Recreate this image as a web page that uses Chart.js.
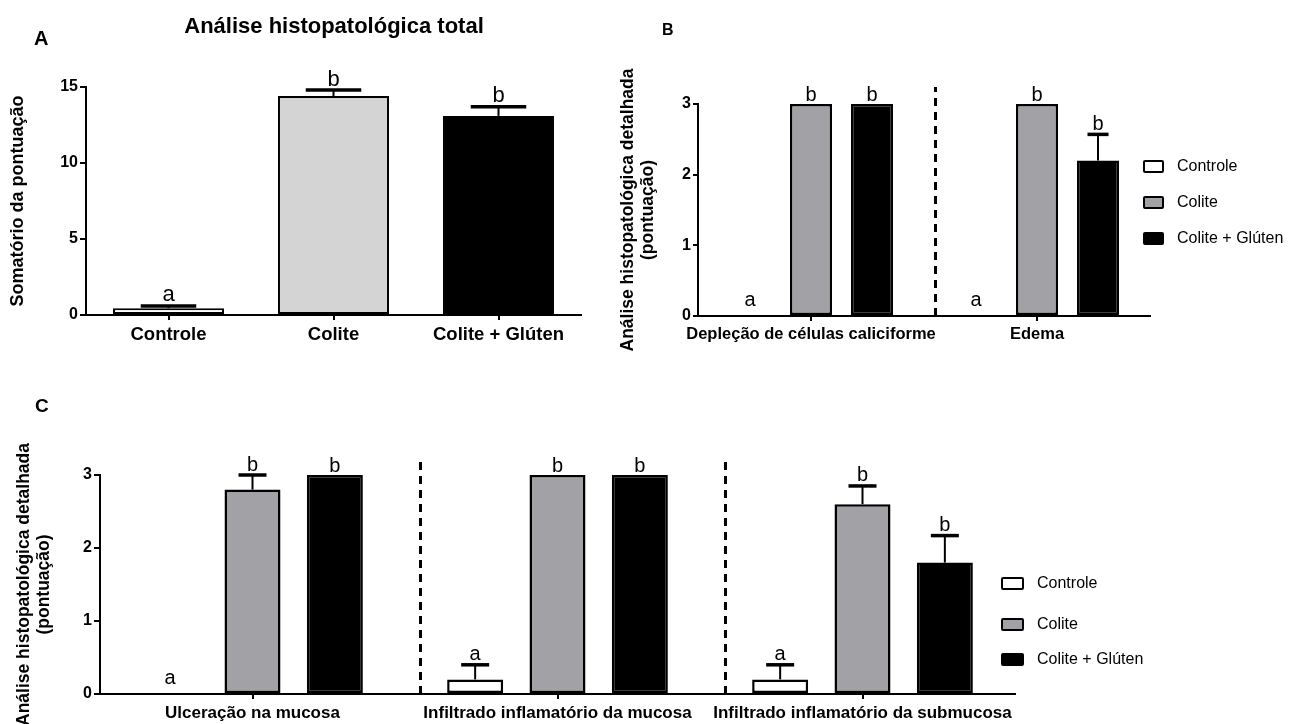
<!DOCTYPE html>
<html>
<head>
<meta charset="utf-8">
<script src="https://cdn.jsdelivr.net/npm/chart.js@4.4.1/dist/chart.umd.min.js"></script>
<style>
  html, body { margin: 0; padding: 0; background: #fff; }
  body { width: 1291px; height: 724px; position: relative; overflow: hidden;
         font-family: "Liberation Sans", Arial, sans-serif; color: #000; }
  canvas { position: absolute; }
  .txt { position: absolute; white-space: nowrap; line-height: 1; }
  .row { position: absolute; display: flex; align-items: center; height: 20px;
         white-space: nowrap; font-size: 16px; }
  .sw { box-sizing: border-box; border: 2.5px solid #000; border-radius: 2px;
        height: 13px; margin-right: 13px; }
</style>
</head>
<body>
<canvas id="chartA" width="600" height="360" style="left:0;top:0"></canvas>
<canvas id="chartB" width="691" height="360" style="left:600px;top:0"></canvas>
<canvas id="chartC" width="1291" height="354" style="left:0;top:370px"></canvas>

<div class="txt" style="left:34px;top:28px;font-size:20px;font-weight:bold">A</div>
<div class="txt" style="left:662px;top:22px;font-size:16px;font-weight:bold">B</div>
<div class="txt" style="left:35px;top:396px;font-size:19px;font-weight:bold">C</div>
<div class="txt" style="left:334px;top:15px;font-size:22px;font-weight:bold;transform:translateX(-50%)">Análise histopatológica total</div>

<div id="legendB"></div>
<div id="legendC"></div>

<script>
// ---- groups shared by every panel ----
const groups = ['Controle', 'Colite', 'Colite + Glúten'];
const groupFill = ['#ffffff', '#a2a2a6', '#000000'];

// ---- panel A: total histopathological score ----
const totalFill = ['#ffffff', '#d4d4d4', '#000000'];
const totalScore = [0.45, 14.4, 13.1];
const totalSem = [0.15, 0.4, 0.6];
const totalLetters = ['a', 'b', 'b'];
const totalTicks = [0, 5, 10, 15];

// ---- panel B: detailed score ----
const detailB = ['Depleção de células caliciforme', 'Edema'];
const bControle = [0, 0];
const bColite = [3, 3];
const bGluten = [3, 2.2];
const bControleSem = [0, 0];
const bColiteSem = [0, 0];
const bGlutenSem = [0, 0.37];
const bControleLetters = ['a', 'a'];
const bColiteLetters = ['b', 'b'];
const bGlutenLetters = ['b', 'b'];
const bSeparators = [0.55];

// ---- panel C: detailed score ----
const detailC = ['Ulceração na mucosa', 'Infiltrado inflamatório da mucosa', 'Infiltrado inflamatório da submucosa'];
const cControle = [0, 0.2, 0.2];
const cColite = [2.8, 3, 2.6];
const cGluten = [3, 3, 1.8];
const cControleSem = [0, 0.2, 0.2];
const cColiteSem = [0.2, 0, 0.25];
const cGlutenSem = [0, 0, 0.37];
const cControleLetters = ['a', 'a', 'a'];
const cColiteLetters = ['b', 'b', 'b'];
const cGlutenLetters = ['b', 'b', 'b'];
const cSeparators = [0.55, 1.55];

const detailTicks = [0, 1, 2, 3];

const FONT = '"Liberation Sans", Arial, sans-serif';
Chart.defaults.font.family = FONT;
Chart.defaults.color = '#000';

// Upper SEM whiskers, significance letters and dashed group separators
const statMarks = {
  id: 'statMarks',
  afterDatasetsDraw(chart, args, opts) {
    const ctx = chart.ctx;
    const xs = chart.scales.x, ys = chart.scales.y, area = chart.chartArea;
    ctx.save();
    ctx.strokeStyle = '#000';
    (opts.separators || []).forEach(v => {
      const px = Math.round(xs.getPixelForValue(v)) + 0.5;
      ctx.beginPath();
      ctx.setLineDash([8, 6]);
      ctx.lineWidth = 3;
      ctx.moveTo(px, area.bottom);
      ctx.lineTo(px, area.top - 17);
      ctx.stroke();
    });
    ctx.setLineDash([]);
    chart.data.datasets.forEach((ds, i) => {
      const meta = chart.getDatasetMeta(i);
      meta.data.forEach((bar, j) => {
        const v = ds.data[j];
        const e = opts.errors[i][j];
        let top = bar.y;
        if (e > 0) {
          const ey = ys.getPixelForValue(v + e);
          ctx.beginPath();
          ctx.lineWidth = 2;
          ctx.moveTo(bar.x, bar.y);
          ctx.lineTo(bar.x, ey);
          ctx.stroke();
          ctx.beginPath();
          ctx.lineWidth = 3.5;
          ctx.moveTo(bar.x - bar.width / 4, ey);
          ctx.lineTo(bar.x + bar.width / 4, ey);
          ctx.stroke();
          top = ey - 1.5;
        }
        const gap = (v + e === 0) ? 10 : 3;
        ctx.fillStyle = '#000';
        ctx.font = opts.letterSize + 'px ' + FONT;
        ctx.textAlign = 'center';
        ctx.textBaseline = 'alphabetic';
        ctx.fillText(opts.letters[i][j], bar.x, top - gap);
      });
    });
    ctx.restore();
  }
};

function makeChart(id, p) {
  return new Chart(document.getElementById(id), {
    type: 'bar',
    data: { labels: p.labels, datasets: p.datasets },
    options: {
      responsive: false,
      animation: false,
      devicePixelRatio: 1,
      layout: { padding: p.padding },
      datasets: { bar: { categoryPercentage: p.catPct, barPercentage: p.barPct, borderColor: '#000', borderWidth: p.barBorder, borderSkipped: false } },
      plugins: {
        legend: { display: false },
        tooltip: { enabled: false },
        statMarks: { errors: p.errors, letters: p.letters, separators: p.separators, letterSize: p.letterSize }
      },
      scales: {
        x: {
          offset: true,
          border: { color: '#000', width: 2 },
          grid: { display: true, drawOnChartArea: false, drawTicks: true, tickLength: 5, color: '#000', lineWidth: 2, offset: false },
          ticks: { font: { size: p.xFont, weight: 'bold' }, padding: 4, maxRotation: 0, autoSkip: false },
          afterFit: s => { s.height = p.xHeight; }
        },
        y: {
          min: p.ticks[0],
          max: p.ticks[p.ticks.length - 1],
          border: { color: '#000', width: 2 },
          grid: { display: true, drawOnChartArea: false, drawTicks: true, tickLength: p.yTick, color: '#000', lineWidth: 2 },
          ticks: { stepSize: p.ticks[1] - p.ticks[0], font: { size: 16, weight: 'bold' }, padding: p.yPad },
          title: { display: true, text: p.yTitle, font: { size: p.yTitleSize, weight: 'bold', lineHeight: 1.15 }, padding: { top: p.yTitlePad, bottom: 0 } },
          afterFit: s => { s.width = p.yWidth; }
        }
      }
    },
    plugins: [statMarks]
  });
}

// Panel A
makeChart('chartA', {
  labels: groups,
  datasets: [{ data: totalScore, backgroundColor: totalFill }],
  errors: [totalSem],
  letters: [totalLetters],
  separators: [],
  letterSize: 22,
  ticks: totalTicks,
  catPct: 1, barPct: 0.673, barBorder: 2,
  padding: { left: 0, top: 87, right: 19, bottom: 0 },
  xHeight: 45, yWidth: 86, yTick: 6, yPad: 2,
  xFont: 18.5,
  yTitle: 'Somatório da pontuação', yTitleSize: 18, yTitlePad: 8
});

// Panel B
makeChart('chartB', {
  labels: detailB,
  datasets: [
    { label: groups[0], data: bControle, backgroundColor: groupFill[0] },
    { label: groups[1], data: bColite, backgroundColor: groupFill[1] },
    { label: groups[2], data: bGluten, backgroundColor: groupFill[2] }
  ],
  errors: [bControleSem, bColiteSem, bGlutenSem],
  letters: [bControleLetters, bColiteLetters, bGlutenLetters],
  separators: bSeparators,
  letterSize: 20,
  ticks: detailTicks,
  catPct: 0.81, barPct: 0.69, barBorder: 2.5,
  padding: { left: 0, top: 104, right: 141, bottom: 0 },
  xHeight: 44, yWidth: 98, yTick: 5, yPad: 2,
  xFont: 16.5,
  yTitle: ['Análise histopatológica detalhada', '(pontuação)'], yTitleSize: 17.5, yTitlePad: 18
});

// Panel C
makeChart('chartC', {
  labels: detailC,
  datasets: [
    { label: groups[0], data: cControle, backgroundColor: groupFill[0] },
    { label: groups[1], data: cColite, backgroundColor: groupFill[1] },
    { label: groups[2], data: cGluten, backgroundColor: groupFill[2] }
  ],
  errors: [cControleSem, cColiteSem, cGlutenSem],
  letters: [cControleLetters, cColiteLetters, cGlutenLetters],
  separators: cSeparators,
  letterSize: 20,
  ticks: detailTicks,
  catPct: 0.81, barPct: 0.68, barBorder: 2.5,
  padding: { left: 0, top: 105, right: 276, bottom: 0 },
  xHeight: 30, yWidth: 100, yTick: 6, yPad: 2,
  xFont: 17,
  yTitle: ['Análise histopatológica detalhada', '(pontuação)'], yTitleSize: 17.5, yTitlePad: 14
});

// Group legends
function buildLegend(id, left, boxW, rowsY) {
  const host = document.getElementById(id);
  groups.forEach((g, i) => {
    const row = document.createElement('div');
    row.className = 'row';
    row.style.left = left + 'px';
    row.style.top = (rowsY[i] - 10) + 'px';
    const sw = document.createElement('span');
    sw.className = 'sw';
    sw.style.width = boxW + 'px';
    sw.style.background = groupFill[i];
    const t = document.createElement('span');
    t.textContent = g;
    row.appendChild(sw);
    row.appendChild(t);
    host.appendChild(row);
  });
}
buildLegend('legendB', 1143, 21, [166, 202, 238]);
buildLegend('legendC', 1001, 23, [583, 624, 659]);
</script>
</body>
</html>
